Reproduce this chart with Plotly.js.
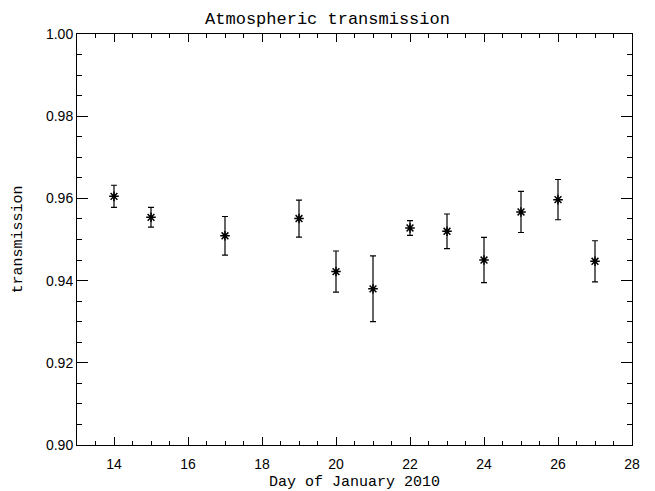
<!DOCTYPE html>
<html>
<head>
<meta charset="utf-8">
<script src="https://cdn.plot.ly/plotly-3.0.1.min.js"></script>
<style>html,body{margin:0;padding:0;background:#fff}#plot{width:655px;height:491px}</style>
</head>
<body>
<div id="plot"></div>
<script>
const days = [14, 15, 17, 19, 20, 21, 22, 23, 24, 25, 26, 27];
const transmission = [0.9605, 0.9554, 0.9509, 0.9551, 0.9422, 0.9380, 0.9528, 0.9520, 0.9450, 0.9567, 0.9597, 0.9447];
const errors = [0.0027, 0.0024, 0.0047, 0.0045, 0.0050, 0.0080, 0.0018, 0.0042, 0.0055, 0.0050, 0.0049, 0.0050];

const trace = {
  x: days,
  y: transmission,
  type: 'scatter',
  mode: 'markers',
  marker: {symbol: 'asterisk-open', size: 8, color: '#000', line: {color: '#000', width: 1.5}},
  error_y: {type: 'data', array: errors, visible: true, color: '#000', thickness: 1.2, width: 3}
};

const tickFont = {family: 'Liberation Sans, Arial, sans-serif', size: 14, color: '#000'};
const monoFont = {family: 'Liberation Mono, Courier New, monospace', size: 15, color: '#000'};

const layout = {
  width: 655, height: 491,
  margin: {l: 77, r: 23, t: 34, b: 46},
  paper_bgcolor: '#fff', plot_bgcolor: '#fff',
  showlegend: false,
  title: {text: 'Atmospheric transmission', font: {family: 'Liberation Mono, Courier New, monospace', size: 17, color: '#000'}, x: 0.5, xanchor: 'center', y: 0.963, yanchor: 'middle'},
  xaxis: {
    range: [13, 28], showgrid: false, zeroline: false,
    showline: true, linecolor: '#000', linewidth: 1, mirror: 'ticks',
    ticks: 'inside', ticklen: 8, tickcolor: '#000', tickwidth: 1,
    tickmode: 'linear', tick0: 14, dtick: 2,
    tickfont: tickFont, ticklabelstandoff: 6,
    minor: {dtick: 0.5, tick0: 13, ticks: 'inside', ticklen: 4, tickcolor: '#000', tickwidth: 1, showgrid: false},
    title: {text: 'Day of January 2010', font: monoFont, standoff: 4}
  },
  yaxis: {
    range: [0.90, 1.00], showgrid: false, zeroline: false,
    showline: true, linecolor: '#000', linewidth: 1, mirror: 'ticks',
    ticks: 'inside', ticklen: 11, tickcolor: '#000', tickwidth: 1,
    tickmode: 'linear', tick0: 0.90, dtick: 0.02, tickformat: '.2f',
    tickfont: tickFont,
    minor: {dtick: 0.005, tick0: 0.90, ticks: 'inside', ticklen: 5, tickcolor: '#000', tickwidth: 1, showgrid: false},
    title: {text: 'transmission', font: monoFont, standoff: 19}
  }
};

Plotly.newPlot('plot', [trace], layout, {displayModeBar: false, staticPlot: true});
</script>
</body>
</html>
